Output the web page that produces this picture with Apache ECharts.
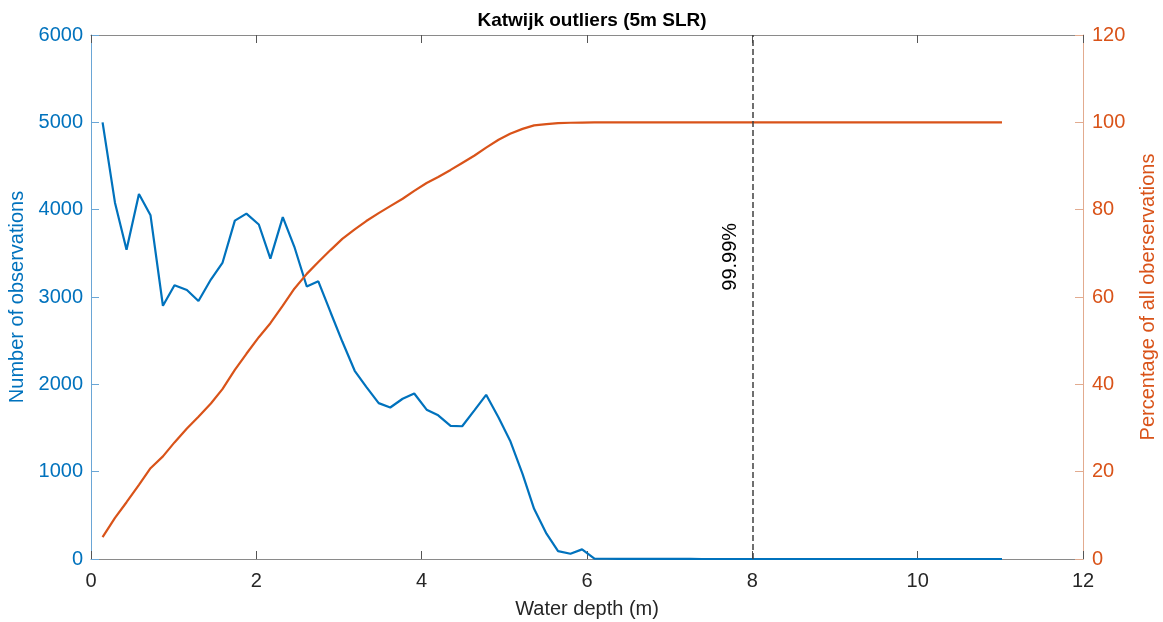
<!DOCTYPE html>
<html>
<head>
<meta charset="utf-8">
<script src="https://cdn.jsdelivr.net/npm/echarts@6/dist/echarts.min.js"></script>
<style>html,body{margin:0;padding:0;background:#fff;}#chart{width:1163px;height:622px;}</style>
</head>
<body>
<div id="chart"></div>
<script>
// Water depth (m) of each bin
const depth = [0.14,0.29,0.43,0.58,0.72,0.87,1.01,1.16,1.30,1.45,1.59,1.74,1.88,2.03,2.17,2.32,2.46,2.61,2.75,2.90,
  3.04,3.19,3.33,3.48,3.62,3.77,3.91,4.06,4.20,4.35,4.49,4.64,4.78,4.93,5.07,5.22,5.36,5.51,5.65,5.80,
  5.94,6.09,6.23,6.38,6.52,6.67,6.81,6.96,7.10,7.25,7.39,7.54,7.68,7.83,7.97,8.12,8.26,8.41,8.55,8.70,
  8.84,8.99,9.13,9.28,9.42,9.57,9.71,9.86,10.00,10.15,10.29,10.44,10.58,10.73,10.87,11.02];
// Number of observations per bin
const counts = [5000,4080,3540,4180,3935,2900,3135,3080,2955,3200,3390,3875,3955,3830,3440,3915,3575,3120,3180,2820,
  2490,2155,1970,1785,1735,1835,1895,1710,1645,1525,1520,1705,1880,1620,1355,975,575,290,90,60,
  110,5,3,2,2,1,1,1,1,1,0,0,0,0,0,0,0,0,0,0,
  0,0,0,0,0,0,0,0,0,0,0,0,0,0,0,0];
// Cumulative percentage of all observations
const cumPct = [5.0,9.4,13.0,17.0,20.8,23.5,26.7,29.9,32.6,35.6,38.9,43.3,47.0,50.8,54.0,58.0,61.9,65.3,68.0,70.8,
  73.3,75.5,77.4,79.2,80.8,82.5,84.3,86.1,87.5,89.1,90.7,92.4,94.2,96.0,97.4,98.5,99.3,99.6,99.8,99.9,
  99.95,99.97,99.98,99.98,99.99,99.99,99.99,99.99,99.99,99.99,100,100,100,100,100,100,100,100,100,100,
  100,100,100,100,100,100,100,100,100,100,100,100,100,100,100,100];
const xTicks = [0,2,4,6,8,10,12];
const leftTicks = [0,1000,2000,3000,4000,5000,6000];
const rightTicks = [0,20,40,60,80,100,120];
const thresholdDepth = 8;
const thresholdLabel = '99.99%';

const blue = '#0072BD', orange = '#D95319', dark = '#262626';
const FONT = 'Liberation Sans, Arial, sans-serif';

const chart = echarts.init(document.getElementById('chart'), null, {renderer: 'canvas'});
const blueData = depth.map((d, i) => [d, counts[i]]);
const orangeData = depth.map((d, i) => [d, cumPct[i]]);
const plain = v => String(v);

const option = {
  animation: false,
  backgroundColor: '#fff',
  title: {
    text: 'Katwijk outliers (5m SLR)',
    left: 587, textAlign: 'center', top: 6,
    textStyle: {fontFamily: FONT, fontSize: 19, fontWeight: 'bold', color: '#000'}
  },
  grid: {left: 91, right: 80, top: 35, bottom: 63, containLabel: false, outerBoundsMode: 'none'},
  xAxis: [{
    type: 'value', min: xTicks[0], max: xTicks[xTicks.length-1], interval: 2,
    name: 'Water depth (m)', nameLocation: 'middle', nameGap: 40,
    nameTextStyle: {fontFamily: FONT, fontSize: 20, color: dark},
    axisLine: {show: true, onZero: false, lineStyle: {color: '#8a8a8a', width: 1}},
    axisTick: {show: true, inside: true, length: 8, lineStyle: {color: '#555'}},
    axisLabel: {fontFamily: FONT, fontSize: 20, color: dark, margin: 12, formatter: plain},
    splitLine: {show: false}
  }, {
    type: 'value', position: 'top', min: xTicks[0], max: xTicks[xTicks.length-1], interval: 2,
    axisLine: {show: true, onZero: false, lineStyle: {color: '#8a8a8a', width: 1}},
    axisTick: {show: true, inside: true, length: 8, lineStyle: {color: '#555'}},
    axisLabel: {show: false}, splitLine: {show: false}
  }],
  yAxis: [{
    type: 'value', position: 'left', min: leftTicks[0], max: leftTicks[leftTicks.length-1], interval: 1000,
    name: 'Number of observations', nameLocation: 'middle', nameGap: 62, nameRotate: 90,
    nameTextStyle: {fontFamily: FONT, fontSize: 20, color: blue},
    axisLine: {show: true, onZero: false, lineStyle: {color: '#6aa6d6', width: 1}},
    axisTick: {show: true, inside: true, length: 8, lineStyle: {color: '#6aa6d6'}},
    axisLabel: {fontFamily: FONT, fontSize: 20, color: blue, margin: 8, formatter: plain},
    splitLine: {show: false}
  }, {
    type: 'value', position: 'right', min: rightTicks[0], max: rightTicks[rightTicks.length-1], interval: 20,
    name: 'Percentage of all oberservations', nameLocation: 'middle', nameGap: 55, nameRotate: 90,
    nameTextStyle: {fontFamily: FONT, fontSize: 20, color: orange},
    axisLine: {show: true, onZero: false, lineStyle: {color: '#e2ab8f', width: 1}},
    axisTick: {show: true, inside: true, length: 8, lineStyle: {color: '#e2ab8f'}},
    axisLabel: {fontFamily: FONT, fontSize: 20, color: orange, margin: 9, formatter: plain},
    splitLine: {show: false}
  }],
  series: [{
    type: 'line', name: 'counts', xAxisIndex: 0, yAxisIndex: 0, data: blueData,
    showSymbol: false, symbol: 'none',
    lineStyle: {color: blue, width: 2.2}, z: 3,
    markLine: {
      silent: true, symbol: ['none', 'none'],
      lineStyle: {color: '#404040', type: [6, 3], width: 1.5},
      label: {show: false},
      data: [{xAxis: thresholdDepth}]
    }
  }, {
    type: 'line', name: 'cumulative', xAxisIndex: 0, yAxisIndex: 1, data: orangeData,
    showSymbol: false, symbol: 'none',
    lineStyle: {color: orange, width: 2.2}, z: 4
  }]
};
chart.setOption(option);

const p = chart.convertToPixel({xAxisIndex: 0, yAxisIndex: 0}, [thresholdDepth - 0.27, 3460]);
chart.setOption({
  graphic: [{
    type: 'text', x: p[0], y: p[1], rotation: Math.PI / 2,
    style: {text: thresholdLabel, fill: '#000', font: '20px ' + FONT, textAlign: 'center', textVerticalAlign: 'middle'},
    z: 10
  }]
});
</script>
</body>
</html>
